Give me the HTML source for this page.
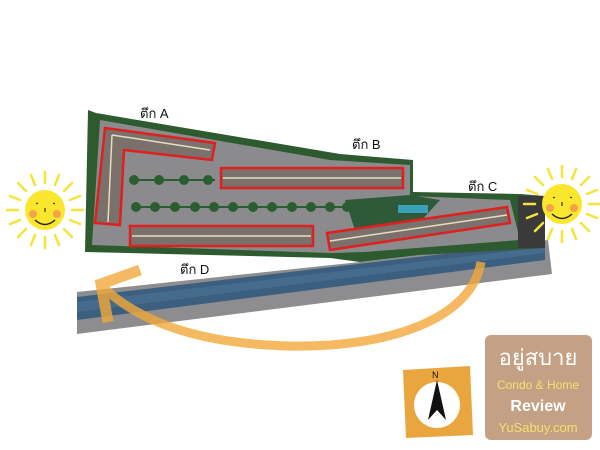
<!DOCTYPE html>
<html><head><meta charset="utf-8"><style>
html,body{margin:0;padding:0;background:#fff;width:600px;height:450px;overflow:hidden}
text{font-family:"Liberation Sans","Noto Sans CJK SC",sans-serif}
</style></head><body>
<svg width="600" height="450" viewBox="0 0 600 450" xmlns="http://www.w3.org/2000/svg">
<defs>
<g id="sun">
  <g stroke="#f6e43a" stroke-width="2.5" stroke-linecap="round">
    <line x1="0" y1="-27" x2="0" y2="-38"/><line x1="0" y1="27" x2="0" y2="38"/>
    <line x1="-27" y1="0" x2="-38" y2="0"/><line x1="27" y1="0" x2="38" y2="0"/>
    <line x1="19" y1="-19" x2="27" y2="-27"/><line x1="-19" y1="-19" x2="-27" y2="-27"/>
    <line x1="19" y1="19" x2="27" y2="27"/><line x1="-19" y1="19" x2="-27" y2="27"/>
    <line x1="10" y1="-25" x2="14" y2="-35"/><line x1="-10" y1="-25" x2="-14" y2="-35"/>
    <line x1="10" y1="25" x2="14" y2="35"/><line x1="-10" y1="25" x2="-14" y2="35"/>
    <line x1="25" y1="-10" x2="35" y2="-14"/><line x1="-25" y1="-10" x2="-35" y2="-14"/>
    <line x1="25" y1="10" x2="35" y2="14"/><line x1="-25" y1="10" x2="-35" y2="14"/>
  </g>
  <circle r="20" fill="#fbe62e"/>
  <circle cx="-12" cy="4" r="4" fill="#f3a34a"/><circle cx="12" cy="4" r="4" fill="#f3a34a"/>
  <path d="M-9,-6 l2,-1 M8,-7 l2,1 M0,-2 v4" stroke="#333" stroke-width="1.2"/>
  <path d="M-10,10 Q0,19 10,10" stroke="#222" stroke-width="1.5" fill="none"/>
</g>
</defs>
<!-- grey path & river -->
<polygon points="77,292 360,262 548,240 552,274 77,334" fill="#8d8d8f"/>
<polygon points="77,297 545,242 545,260 77,320" fill="#3c5f80"/>
<polygon points="77,302 545,247 545,253 77,312" fill="#4b7396" opacity="0.6"/>
<!-- site -->
<polygon points="88,110 96,113 340,154 413,160 413,192 520,194 545,196 545,248 420,255 360,262 330,258 85,252" fill="#2d5a2e"/>
<polygon points="100,120 330,160 410,165 410,196 510,200 520,240 365,252 330,253 92,245" fill="#8b8b8d"/>
<rect x="518" y="196" width="27" height="52" fill="#3a3a3a"/>
<polygon points="345,200 410,195 440,200 420,222 355,230" fill="#2f5a3a"/>
<rect x="398" y="205" width="30" height="8" fill="#3aa0b8"/>
<!-- tree rows -->
<g fill="#2a5e30">
<line x1="130" y1="180" x2="215" y2="180" stroke="#2a5e30" stroke-width="2"/>
<circle cx="134" cy="180" r="5"/><circle cx="159" cy="180" r="5"/><circle cx="184" cy="180" r="5"/><circle cx="208" cy="180" r="5"/>
<line x1="133" y1="207" x2="350" y2="207" stroke="#2a5e30" stroke-width="2"/>
<circle cx="136" cy="207" r="5"/><circle cx="155" cy="207" r="5"/><circle cx="175" cy="207" r="5"/><circle cx="195" cy="207" r="5"/><circle cx="214" cy="207" r="5"/><circle cx="233" cy="207" r="5"/><circle cx="253" cy="207" r="5"/><circle cx="272" cy="207" r="5"/><circle cx="292" cy="207" r="5"/><circle cx="311" cy="207" r="5"/><circle cx="330" cy="207" r="5"/><circle cx="347" cy="207" r="5"/>
</g>
<!-- buildings -->
<g fill="#7a706c" stroke="#e02020" stroke-width="2.5">
<polygon points="105,128 215,143 212,160 124,150 120,225 95,223"/>
<rect x="221" y="168" width="182" height="20"/>
<polygon points="327,233 507,207 510,223 330,250"/>
<rect x="130" y="226" width="183" height="20"/>
</g>
<g stroke="#e8dcc0" stroke-width="1.5" fill="none">
<path d="M112,135 L210,150 M112,135 L108,222"/>
<line x1="223" y1="178" x2="401" y2="178"/>
<line x1="330" y1="241" x2="507" y2="215"/>
<line x1="132" y1="236" x2="311" y2="236"/>
</g>
<!-- arrow -->
<g opacity="0.8">
<path d="M481,262 C472,318 390,348 290,346 C200,344 140,322 104,288" stroke="#f2a93a" stroke-width="9" fill="none"/>
<polyline points="140,270 101,284 108,322" stroke="#f2a93a" stroke-width="11" fill="none" stroke-linejoin="miter"/>
</g>
<!-- labels -->
<g font-size="13" fill="#111">
<text x="140" y="118">ตึก A</text>
<text x="352" y="149">ตึก B</text>
<text x="468" y="191">ตึก C</text>
<text x="180" y="274">ตึก D</text>
</g>
<use href="#sun" x="45" y="210"/>
<use href="#sun" x="562" y="204"/>
<!-- compass -->
<polygon points="403,370 470,366 473,435 406,438" fill="#eaa63e"/>
<circle cx="437" cy="405" r="23" fill="#fff"/>
<polygon points="437,380 428,420 437,410 446,420" fill="#111"/>
<text x="432" y="378" font-size="9" fill="#111">N</text>
<!-- logo -->
<rect x="485" y="335" width="107" height="105" rx="6" fill="#c4a184"/>
<text x="538" y="365" font-size="22" fill="#fff" text-anchor="middle">อยู่สบาย</text>
<text x="538" y="389" font-size="12" fill="#f4e070" text-anchor="middle">Condo &amp; Home</text>
<text x="538" y="411" font-size="16" fill="#fff" font-weight="bold" text-anchor="middle">Review</text>
<text x="538" y="432" font-size="13" fill="#f4e070" text-anchor="middle">YuSabuy.com</text>
</svg>
</body></html>
